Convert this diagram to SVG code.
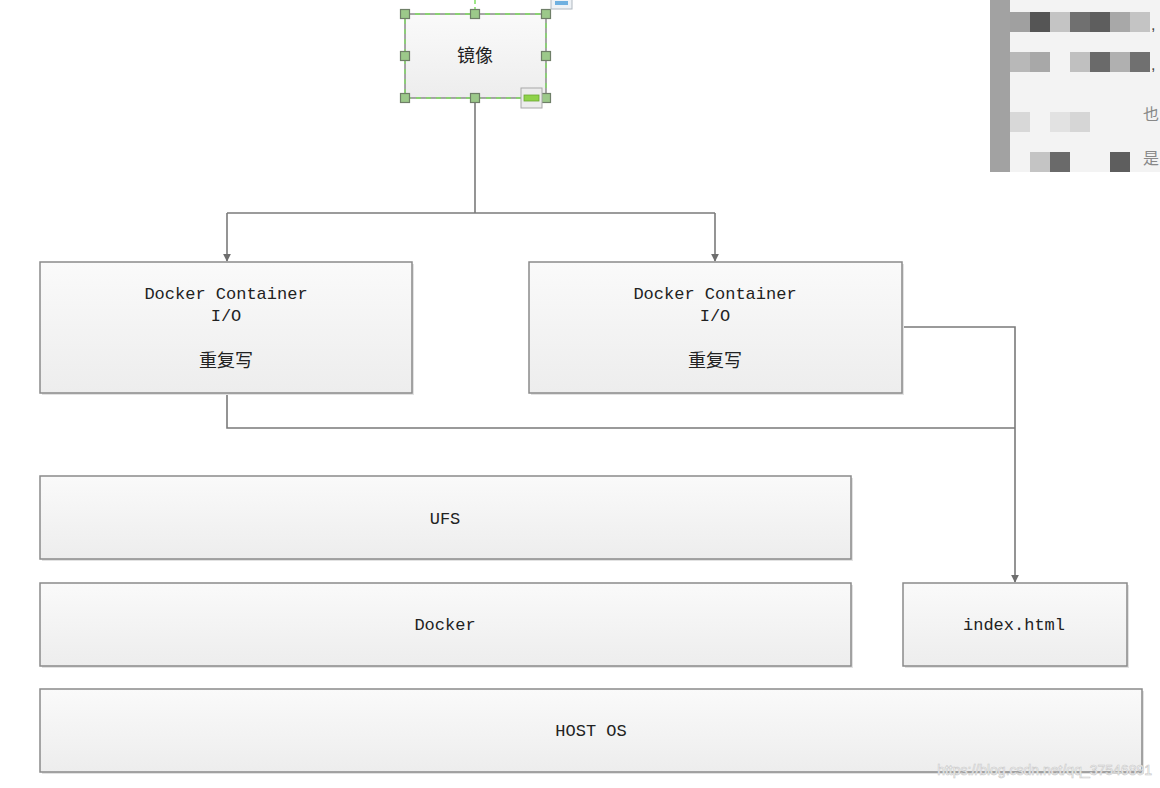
<svg xmlns="http://www.w3.org/2000/svg" width="1160" height="788" viewBox="0 0 1160 788">
<defs>
<linearGradient id="boxfill" x1="0" y1="0" x2="0" y2="1">
<stop offset="0" stop-color="#fafafa"/>
<stop offset="1" stop-color="#ededed"/>
</linearGradient>
<marker id="arr" viewBox="0 0 10 10" refX="9" refY="5" markerWidth="8" markerHeight="8" markerUnits="userSpaceOnUse" orient="auto">
<path d="M0,0 L10,5 L0,10 z" fill="#6e6e6e"/>
</marker>
<clipPath id="blurclip"><rect x="990" y="0" width="170" height="172"/></clipPath>
</defs>
<style>
.box{fill:url(#boxfill);stroke:#8a8a8a;stroke-width:1.5}
.shadow{fill:#e2e2e2}
.lbl{font-family:"Liberation Mono","DejaVu Sans Mono",monospace;font-size:17px;fill:#222;text-anchor:middle}
.cjk{font-family:"Noto Sans CJK SC","Noto Sans",sans-serif;font-size:18px;fill:#222;text-anchor:middle}
.conn{fill:none;stroke:#7a7a7a;stroke-width:1.6}
.handle{fill:#9cc98a;stroke:#6f7f68;stroke-width:1.2}
</style>
<rect width="1160" height="788" fill="#ffffff"/>

<g id="blurred">
<g clip-path="url(#blurclip)">
<rect x="990" y="0" width="170" height="172" fill="#f3f3f3"/>
<rect x="990" y="0" width="20" height="172" fill="#a2a2a2"/>
<rect x="1010" y="12" width="20" height="20" fill="#a0a0a0"/>
<rect x="1030" y="12" width="20" height="20" fill="#555555"/>
<rect x="1050" y="12" width="20" height="20" fill="#c4c4c4"/>
<rect x="1070" y="12" width="20" height="20" fill="#707070"/>
<rect x="1090" y="12" width="20" height="20" fill="#5e5e5e"/>
<rect x="1110" y="12" width="20" height="20" fill="#a8a8a8"/>
<rect x="1130" y="12" width="20" height="20" fill="#c4c4c4"/>
<rect x="1010" y="52" width="20" height="20" fill="#b8b8b8"/>
<rect x="1030" y="52" width="20" height="20" fill="#a8a8a8"/>
<rect x="1070" y="52" width="20" height="20" fill="#c0c0c0"/>
<rect x="1090" y="52" width="20" height="20" fill="#6a6a6a"/>
<rect x="1110" y="52" width="20" height="20" fill="#b0b0b0"/>
<rect x="1130" y="52" width="20" height="20" fill="#707070"/>
<rect x="1010" y="112" width="20" height="20" fill="#d8d8d8"/>
<rect x="1050" y="112" width="20" height="20" fill="#e2e2e2"/>
<rect x="1070" y="112" width="20" height="20" fill="#d6d6d6"/>
<rect x="1030" y="152" width="20" height="20" fill="#c4c4c4"/>
<rect x="1050" y="152" width="20" height="20" fill="#6a6a6a"/>
<rect x="1110" y="152" width="20" height="20" fill="#5e5e5e"/>
<text x="1151" y="30" font-family="Liberation Sans,sans-serif" font-size="16" fill="#444">,</text>
<text x="1151" y="70" font-family="Liberation Sans,sans-serif" font-size="16" fill="#444">,</text>
</g>
<text x="1143" y="120" font-family="Noto Sans CJK SC,sans-serif" font-size="16" fill="#888">也</text>
<text x="1143" y="164" font-family="Noto Sans CJK SC,sans-serif" font-size="16" fill="#888">是</text>
</g>

<g id="connectors">
<path class="conn" d="M475,98 V213"/>
<path class="conn" d="M227,213 H715"/>
<path class="conn" d="M227,213 V261" marker-end="url(#arr)"/>
<path class="conn" d="M715,213 V261" marker-end="url(#arr)"/>
<path class="conn" d="M227,393 V428 H1015"/>
<path class="conn" d="M902,327 H1015 V582" marker-end="url(#arr)"/>
</g>

<g id="node-image">
<rect x="405" y="14" width="141" height="84" fill="url(#boxfill)" stroke="#7a7a7a" stroke-width="1.3"/>
<rect x="405" y="14" width="141" height="84" fill="none" stroke="#7fe060" stroke-width="1.3" stroke-dasharray="5,5"/>
<path d="M475,0 V10" stroke="#7fe060" stroke-width="1.5" stroke-dasharray="4,3"/>
<text class="cjk" x="475" y="62">镜像</text>
<rect class="handle" x="400.5" y="9.5" width="9" height="9"/>
<rect class="handle" x="470.5" y="9.5" width="9" height="9"/>
<rect class="handle" x="541.5" y="9.5" width="9" height="9"/>
<rect class="handle" x="400.5" y="51.5" width="9" height="9"/>
<rect class="handle" x="541.5" y="51.5" width="9" height="9"/>
<rect class="handle" x="400.5" y="93.5" width="9" height="9"/>
<rect class="handle" x="470.5" y="93.5" width="9" height="9"/>
<rect class="handle" x="541.5" y="93.5" width="9" height="9"/>
<rect x="521" y="88" width="21" height="20" fill="#ececec" stroke="#a8a8a8" stroke-width="1"/>
<rect x="524" y="95" width="15" height="6" fill="#8fd24a" stroke="#6aa830" stroke-width="0.8"/>
<rect x="551" y="-2" width="21" height="11" fill="#eef2f6" stroke="#b0b8c0" stroke-width="1"/>
<rect x="555" y="1" width="13" height="4" fill="#6fb0e0"/>
</g>

<g id="node-container-1">
<rect class="shadow" x="42" y="264" width="372" height="131"/>
<rect class="box" x="40" y="262" width="372" height="131"/>
<text class="lbl" x="226" y="299">Docker Container</text>
<text class="lbl" x="226" y="321">I/O</text>
<text class="cjk" x="226" y="367">重复写</text>
</g>

<g id="node-container-2">
<rect class="shadow" x="531" y="264" width="373" height="131"/>
<rect class="box" x="529" y="262" width="373" height="131"/>
<text class="lbl" x="715" y="299">Docker Container</text>
<text class="lbl" x="715" y="321">I/O</text>
<text class="cjk" x="715" y="367">重复写</text>
</g>

<g id="node-ufs">
<rect class="shadow" x="42" y="478" width="811" height="83"/>
<rect class="box" x="40" y="476" width="811" height="83"/>
<text class="lbl" x="445" y="524">UFS</text>
</g>

<g id="node-docker">
<rect class="shadow" x="42" y="585" width="811" height="83"/>
<rect class="box" x="40" y="583" width="811" height="83"/>
<text class="lbl" x="445" y="630">Docker</text>
</g>

<g id="node-index">
<rect class="shadow" x="905" y="585" width="224" height="83"/>
<rect class="box" x="903" y="583" width="224" height="83"/>
<text class="lbl" x="1014" y="630">index.html</text>
</g>

<g id="node-hostos">
<rect class="shadow" x="42" y="691" width="1102" height="83"/>
<rect class="box" x="40" y="689" width="1102" height="83"/>
<text class="lbl" x="591" y="736">HOST OS</text>
</g>

<text x="1152" y="775" text-anchor="end" font-family="Liberation Sans,Arial,sans-serif" font-size="14" fill="#ffffff" stroke="#c8c8c8" stroke-width="0.6">https://blog.csdn.net/qq_37546891</text>
</svg>
